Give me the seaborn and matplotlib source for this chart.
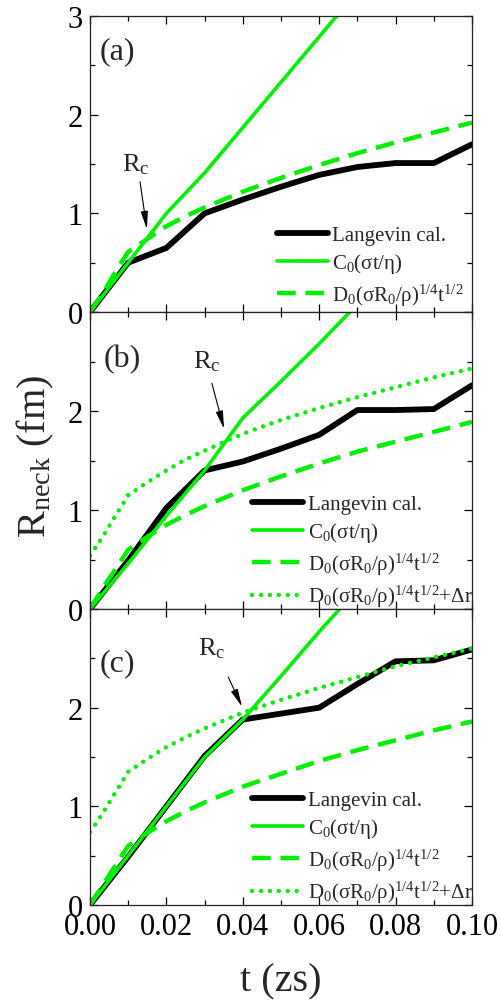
import numpy as np
import pandas as pd
import matplotlib
matplotlib.use("Agg")
import matplotlib.pyplot as plt
from matplotlib.ticker import MultipleLocator, FormatStrFormatter
import seaborn as sns

# ---------------- data ----------------
t_lang = [0.0, 0.01, 0.02, 0.03, 0.04, 0.05, 0.06, 0.07, 0.08, 0.09, 0.10]
lang_a = [0.0, 0.50, 0.65, 1.00, 1.14, 1.27, 1.39, 1.47, 1.51, 1.51, 1.70]
lang_b = [0.0, 0.49, 1.02, 1.40, 1.49, 1.62, 1.76, 2.01, 2.01, 2.02, 2.26]
lang_c = [0.0, 0.49, 1.00, 1.51, 1.88, 1.94, 2.00, 2.24, 2.47, 2.48, 2.59]

t_c0 = [0.0, 0.01, 0.02, 0.03, 0.04, 0.05, 0.06, 0.07]
c0_a = [0.0, 0.50, 1.00, 1.41, 1.87, 2.33, 2.79, 3.25]
c0_b = [0.0, 0.46, 0.94, 1.40, 1.93, 2.30, 2.68, 3.08]
c0_c = [0.0, 0.50, 1.00, 1.50, 1.88, 2.32, 2.77, 3.20]

t_d0 = [0.0, 0.004, 0.007, 0.01, 0.015, 0.02, 0.025, 0.03, 0.04, 0.05,
        0.06, 0.07, 0.08, 0.09, 0.10]
d0_a = [0.0, 0.23, 0.43, 0.61, 0.74, 0.87, 0.97, 1.06, 1.22, 1.36,
        1.49, 1.61, 1.72, 1.82, 1.92]
d0_b = [0.0, 0.25, 0.42, 0.60, 0.73, 0.85, 0.95, 1.04, 1.20, 1.34,
        1.47, 1.59, 1.69, 1.79, 1.89]
d0_c = [0.0, 0.24, 0.42, 0.60, 0.73, 0.85, 0.95, 1.04, 1.20, 1.33,
        1.46, 1.57, 1.67, 1.77, 1.86]

t_dr = [0.0, 0.003, 0.006, 0.01, 0.015, 0.02, 0.025, 0.03, 0.04, 0.05,
        0.06, 0.07, 0.08, 0.09, 0.10]
dr_b = [0.54, 0.71, 0.90, 1.15, 1.28, 1.40, 1.51, 1.60, 1.77, 1.91,
        2.03, 2.14, 2.24, 2.34, 2.43]
dr_c = [0.74, 0.91, 1.10, 1.35, 1.48, 1.60, 1.70, 1.79, 1.95, 2.08,
        2.20, 2.31, 2.42, 2.51, 2.60]

panel_labels = ["(a)", "(b)", "(c)"]
legend_labels = ["Langevin cal.", r"C$_0$(σt/η)",
                 r"D$_0$(σR$_0$/ρ)$^{1/4}$t$^{1/2}$",
                 r"D$_0$(σR$_0$/ρ)$^{1/4}$t$^{1/2}$+Δr"]
x_ticks = [0.00, 0.02, 0.04, 0.06, 0.08, 0.10]
y_ticks = [0, 1, 2, 3]

# ---------------- style ----------------
sns.set_theme(style="ticks")
plt.rcParams["font.family"] = ["Liberation Serif", "DejaVu Serif"]
plt.rcParams["mathtext.fontset"] = "custom"
plt.rcParams["mathtext.rm"] = "Liberation Serif"
plt.rcParams["mathtext.it"] = "Liberation Serif:italic"
plt.rcParams["mathtext.bf"] = "Liberation Serif:bold"

GREEN = "#00ee00"

fig = plt.figure(figsize=(5.01, 10.03), dpi=100)
left, width = 0.1796, 0.7625
boxes = [(0.6879, 0.2951), (0.3918, 0.2961), (0.0967, 0.2951)]
axes = [fig.add_axes([left, b, width, h]) for b, h in boxes]

langs = [lang_a, lang_b, lang_c]
c0s = [c0_a, c0_b, c0_c]
d0s = [d0_a, d0_b, d0_c]
drs = [None, dr_b, dr_c]

label_pos = [(0.0073, 2.65), (0.0084, 2.53), (0.0073, 2.46)]
rc_text = [(0.0120, 1.50), (0.0306, 2.51), (0.0320, 2.61)]
rc_tail = [(0.0131, 1.32), (0.0319, 2.28), (0.0362, 2.31)]
rc_tip = [(0.0149, 0.84), (0.0351, 1.82), (0.0398, 2.01)]
leg_anchor = [(0.49, 0.015), (0.425, 0.0), (0.425, 0.0)]

for i, ax in enumerate(axes):
    df_l = pd.DataFrame({"t": t_lang, "r": langs[i]})
    df_c = pd.DataFrame({"t": t_c0, "r": c0s[i]})
    df_d = pd.DataFrame({"t": t_d0, "r": d0s[i]})
    sns.lineplot(data=df_l, x="t", y="r", ax=ax, color="black", lw=4.2,
                 label=legend_labels[0], estimator=None,
                 solid_capstyle="round", solid_joinstyle="round")
    sns.lineplot(data=df_c, x="t", y="r", ax=ax, color=GREEN, lw=2.6,
                 label=legend_labels[1], estimator=None)
    sns.lineplot(data=df_d, x="t", y="r", ax=ax, color=GREEN, lw=3.2,
                 linestyle=(0, (4.2, 2.2)), label=legend_labels[2],
                 estimator=None)
    if drs[i] is not None:
        df_r = pd.DataFrame({"t": t_dr, "r": drs[i]})
        sns.lineplot(data=df_r, x="t", y="r", ax=ax, color=GREEN, lw=3.2,
                     linestyle=(0, (0.01, 2.0)), dash_capstyle="round",
                     label=legend_labels[3], estimator=None)

    ax.set_xlim(0, 0.1)
    ax.set_ylim(0, 3)
    ax.set_xticks(x_ticks)
    ax.xaxis.set_minor_locator(MultipleLocator(0.01))
    ax.yaxis.set_minor_locator(MultipleLocator(0.5))
    ax.set_yticks(y_ticks)
    if i == 0:
        ax.set_yticklabels([str(v) for v in y_ticks])
    else:
        ax.set_yticklabels([str(v) for v in y_ticks[:-1]] + [""])
    if i == 2:
        ax.xaxis.set_major_formatter(FormatStrFormatter("%.2f"))
    else:
        ax.set_xticklabels([])
    ax.set_xlabel("")
    ax.set_ylabel("")
    ax.tick_params(which="both", direction="in", top=True, right=True,
                   colors="black", labelsize=22, width=0.9)
    ax.tick_params(which="major", length=6, pad=5)
    ax.tick_params(which="minor", length=3.5)
    for sp in ax.spines.values():
        sp.set_linewidth(0.9)
        sp.set_color("#222222")

    ax.text(label_pos[i][0], label_pos[i][1], panel_labels[i], fontsize=23,
            ha="center", va="center")
    ax.text(rc_text[i][0], rc_text[i][1], r"R$_\mathrm{c}$", fontsize=19,
            ha="center", va="center")
    ax.annotate("", xy=rc_tip[i], xytext=rc_tail[i],
                arrowprops=dict(arrowstyle="-|>,head_length=0.9,head_width=0.18",
                                lw=0.8, color="black", shrinkA=0, shrinkB=0))

    leg = ax.legend(loc="lower left", bbox_to_anchor=leg_anchor[i],
                    frameon=False, fontsize=15, handlelength=2.45,
                    handletextpad=0.2, labelspacing=0.3, borderpad=0.0,
                    borderaxespad=0.0)

fig.text(0.07, 0.545, r"R$_\mathrm{neck}$ (fm)", rotation=90, fontsize=29,
         ha="center", va="center")
fig.text(0.561, 0.021, "t (zs)", fontsize=29, ha="center", va="center")

fig.savefig("out.png", dpi=100)
